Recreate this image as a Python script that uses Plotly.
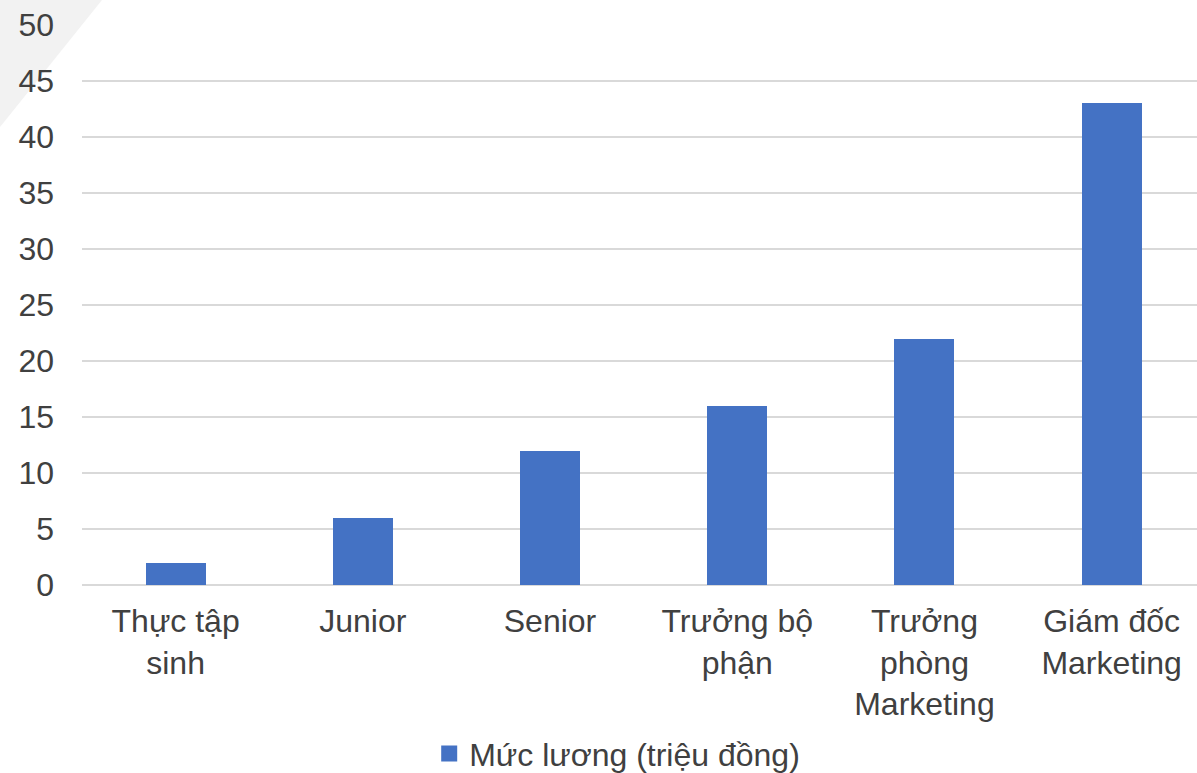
import plotly.graph_objects as go

categories = ["Thực tập<br>sinh", "Junior", "Senior", "Trưởng bộ<br>phận",
              "Trưởng<br>phòng<br>Marketing", "Giám đốc<br>Marketing"]
salaries = [2, 6, 12, 16, 22, 43]
series_name = "Mức lương (triệu đồng)"
y_ticks = list(range(0, 55, 5))

BAR = "#4472C4"
GRID = "#D9D9D9"
TEXT = "#404040"
FONT = "Liberation Sans, Arial, sans-serif"

fig = go.Figure()
fig.add_trace(go.Bar(
    x=list(range(len(categories))), y=salaries, name=series_name,
    marker=dict(color=BAR, line=dict(width=0)), width=0.32,
    showlegend=False,
))
# legend entry with a larger square swatch
fig.add_trace(go.Scatter(
    x=[None], y=[None], mode="markers", name=series_name,
    marker=dict(symbol="square", size=16, color=BAR),
    showlegend=True,
))

# light decorative corner in the top-left
fig.add_shape(type="path", xref="paper", yref="paper",
              path="M -0.0735 1.0446 L 0.0179 1.0446 L -0.0735 0.8179 Z",
              fillcolor="#F2F2F2", line=dict(width=0), layer="below")

fig.update_layout(
    width=1197, height=773,
    margin=dict(l=82, r=0, t=25, b=188, autoexpand=False),
    paper_bgcolor="white", plot_bgcolor="white",
    font=dict(family=FONT, size=32, color=TEXT),
    bargap=0,
    legend=dict(orientation="h", x=0.48, xanchor="center",
                yref="container", y=0.025, yanchor="middle",
                font=dict(size=32, color=TEXT),
                itemwidth=30, bgcolor="rgba(0,0,0,0)"),
    xaxis=dict(
        range=[-0.5, 5.456], tickmode="array",
        tickvals=list(range(len(categories))), ticktext=categories,
        showgrid=False, zeroline=False, showline=False, ticks="",
        ticklabelstandoff=14, automargin=False,
    ),
    yaxis=dict(
        range=[0, 50], tickmode="array", tickvals=y_ticks,
        ticktext=[str(v) for v in y_ticks],
        showgrid=True, gridcolor=GRID, gridwidth=2,
        zeroline=True, zerolinecolor=GRID, zerolinewidth=2,
        showline=False, ticks="", ticklabelstandoff=27, automargin=False,
    ),
)

fig.write_html("out.html")
